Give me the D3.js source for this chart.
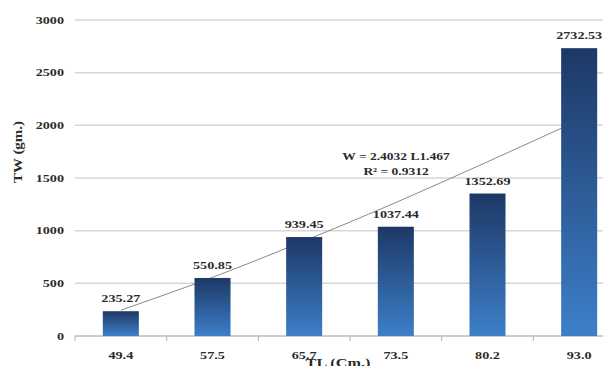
<!DOCTYPE html>
<html><head><meta charset="utf-8">
<script src="https://cdn.jsdelivr.net/npm/d3@7"></script>
<style>
html,body{margin:0;padding:0;background:#fff;overflow:hidden;}
text{font-family:"Liberation Serif","Times New Roman",serif;font-weight:bold;fill:#2a2a2a;}
</style></head>
<body><svg id="c" width="603" height="366"></svg>
<script>
const categories = ["49.4","57.5","65.7","73.5","80.2","93.0"];
const values = [235.27, 550.85, 939.45, 1037.44, 1352.69, 2732.53];
const valueLabels = ["235.27","550.85","939.45","1037.44","1352.69","2732.53"];
const trendValues = [245, 557, 902, 1267, 1654, 2050];
const yTicks = [0, 500, 1000, 1500, 2000, 2500, 3000];
const equationLines = ["W = 2.4032 L1.467", "R² = 0.9312"];
const xTitle = "TL (Cm.)";
const yTitle = "TW (gm.)";

const svg = d3.select("#c");
const SX = 1.35;
const x = d3.scaleBand().domain(categories).range([75, 625]).paddingInner(0.607).paddingOuter(0.3035);
const y = d3.scaleLinear().domain([0, 3000]).range([336, 20]);

const defs = svg.append("defs");
const g = defs.append("linearGradient").attr("id","bg").attr("x1",0).attr("y1",0).attr("x2",0).attr("y2",1);
g.append("stop").attr("offset","0%").attr("stop-color","#1d3866");
g.append("stop").attr("offset","100%").attr("stop-color","#3d7fc8");

// gridlines
svg.append("g").selectAll("line").data(yTicks.filter(d=>d>0)).join("line")
  .attr("x1",75).attr("x2",603).attr("y1",d=>y(d)).attr("y2",d=>y(d))
  .attr("stroke","#d6d6d6").attr("stroke-width",1.5);

// y tick labels
svg.append("g").selectAll("text").data(yTicks).join("text")
  .attr("transform",d=>`translate(64,${y(d)+3.5}) scale(${SX},1)`)
  .attr("text-anchor","end").attr("font-size",10.5).text(d=>d);

// x axis line
svg.append("line").attr("x1",75).attr("x2",603).attr("y1",y(0)).attr("y2",y(0))
  .attr("stroke","#9a9a9a").attr("stroke-width",1);
// separator ticks
const step = x.step();
svg.append("g").selectAll("line").data(d3.range(0, categories.length+1)).join("line")
  .attr("x1",i=>75+i*step).attr("x2",i=>75+i*step)
  .attr("y1",y(0)).attr("y2",y(0)+5).attr("stroke","#b0b0b0");

// trendline (behind bars)
const line = d3.line().x((d,i)=>x(categories[i])+x.bandwidth()/2).y(d=>y(d)).curve(d3.curveMonotoneX);
svg.append("path").datum(trendValues).attr("d",line).attr("fill","none")
  .attr("stroke","#8a8a8a").attr("stroke-width",1);

// bars
svg.append("g").selectAll("rect").data(values).join("rect")
  .attr("x",(d,i)=>x(categories[i])).attr("width",x.bandwidth())
  .attr("y",d=>y(d)).attr("height",d=>y(0)-y(d)).attr("fill","url(#bg)");

// bar labels
svg.append("g").selectAll("text").data(values).join("text")
  .attr("transform",(d,i)=>`translate(${x(categories[i])+x.bandwidth()/2},${y(d)-9}) scale(${SX},1)`)
  .attr("text-anchor","middle").attr("font-size",10.5).text((d,i)=>valueLabels[i]);

// x tick labels
svg.append("g").selectAll("text").data(categories).join("text")
  .attr("transform",d=>`translate(${x(d)+x.bandwidth()/2},359) scale(${SX},1)`)
  .attr("text-anchor","middle").attr("font-size",10.5).text(d=>d);

// equation
svg.append("g").selectAll("text").data(equationLines).join("text")
  .attr("transform",(d,i)=>`translate(396,${160+i*14.5}) scale(${SX},1)`)
  .attr("text-anchor","middle").attr("font-size",10).text(d=>d);

// axis titles
svg.append("text").attr("transform",`translate(338,367) scale(${SX},1)`)
  .attr("text-anchor","middle").attr("font-size",12).text(xTitle);
svg.append("text").attr("transform",`translate(22,152) rotate(-90) scale(1.3,1)`)
  .attr("text-anchor","middle").attr("font-size",11.5).text(yTitle);
</script></body></html>
